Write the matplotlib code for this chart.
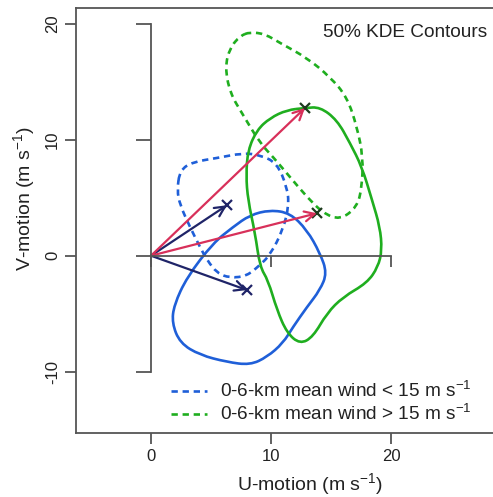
import matplotlib
matplotlib.use("Agg")
import matplotlib.pyplot as plt
from matplotlib.path import Path
from matplotlib.patches import PathPatch
from matplotlib.lines import Line2D

plt.rcParams['font.family'] = ['Liberation Sans', 'DejaVu Sans']
plt.rcParams['mathtext.fontset'] = 'custom'
plt.rcParams['mathtext.rm'] = 'Liberation Sans'
plt.rcParams['mathtext.it'] = 'Liberation Sans:italic'
plt.rcParams['axes.unicode_minus'] = False

# 50% KDE contours (u, v in m/s)
slow_dash_u = [2.42, 3.5, 5.5, 7.67, 9.08, 10.5, 11.33, 11.5, 11.0, 9.92, 9.08, 8.0,
               6.58, 5.5, 4.67, 4.08, 3.25, 2.42, 2.17]
slow_dash_v = [7.39, 8.08, 8.42, 8.85, 8.68, 7.99, 5.92, 4.37, 2.22, 0.06, -0.8, -1.75,
               -1.92, -1.49, -0.37, 0.75, 2.47, 4.37, 5.66]
slow_solid_u = [6.83, 8.25, 9.92, 11.58, 13.0, 14.08, 14.67, 14.08, 13.0, 11.83, 11.0,
                9.67, 8.25, 6.33, 4.08, 2.42, 1.75, 1.92, 3.0, 5.17]
slow_solid_v = [2.47, 3.51, 3.94, 3.68, 2.22, 0.23, -1.49, -2.96, -4.42, -6.15, -7.53,
                -8.73, -9.42, -9.16, -8.56, -7.53, -5.8, -4.25, -1.84, 1.09]
fast_dash_u = [8.25, 9.5, 10.75, 13.0, 14.92, 16.33, 17.17, 17.67, 17.58, 17.17, 15.75,
               14.33, 13.0, 11.58, 10.17, 9.08, 7.67, 6.58, 6.17, 6.58, 7.42]
fast_dash_v = [19.28, 19.11, 18.34, 17.05, 15.41, 13.69, 11.09, 8.51, 5.92, 4.2, 3.08,
               3.68, 5.06, 6.78, 8.51, 9.72, 12.13, 14.03, 16.27, 17.91, 18.94]
fast_solid_u = [12.83, 14.08, 15.5, 16.58, 17.58, 18.42, 19.08, 19.25, 18.92, 18.0, 16.0,
                14.67, 13.5, 12.42, 11.33, 10.5, 9.75, 9.08, 8.67, 8.08, 7.92, 8.08,
                8.83, 9.92, 11.33]
fast_solid_v = [12.73, 12.82, 11.7, 9.72, 7.65, 4.8, 2.47, 0.49, -0.97, -2.35, -3.56,
                -4.94, -7.0, -7.61, -6.66, -4.68, -2.09, -0.97, 1.96, 4.8, 6.96, 9.11,
                10.84, 11.87, 12.56]

# mean motion vectors
slow_vec_u = [6.33, 8.0]
slow_vec_v = [4.35, -2.96]
fast_vec_u = [12.83, 13.83]
fast_vec_v = [12.73, 3.66]

blue = '#1f5fd8'
green = '#1fae1f'
red = '#d8305a'
navy = '#1f2468'
gray = '#555555'
txt = '#222222'

fig = plt.figure(figsize=(4.93, 4.97), dpi=100)
ax = fig.add_axes([76/493, 64/497, 417/493, 425/497])
xlim = (-6.25, 28.5)
ylim = (-15.28, 21.35)
ax.set_xlim(xlim)
ax.set_ylim(ylim)


def smooth_loop(us, vs, **kw):
    # closed curve, the read points used as quadratic control points
    pts = list(zip(us, vs))
    n = len(pts)
    mids = [((pts[i][0] + pts[(i + 1) % n][0]) / 2, (pts[i][1] + pts[(i + 1) % n][1]) / 2)
            for i in range(n)]
    verts = [mids[-1]]
    codes = [Path.MOVETO]
    for i in range(n):
        verts += [pts[i], mids[i]]
        codes += [Path.CURVE3, Path.CURVE3]
    ax.add_patch(PathPatch(Path(verts, codes), fill=False, **kw))


smooth_loop(slow_dash_u, slow_dash_v, edgecolor=blue, lw=1.9, ls=(0, (2.4, 1.8)))
smooth_loop(slow_solid_u, slow_solid_v, edgecolor=blue, lw=1.9)
smooth_loop(fast_dash_u, fast_dash_v, edgecolor=green, lw=1.9, ls=(0, (2.4, 1.8)))
smooth_loop(fast_solid_u, fast_solid_v, edgecolor=green, lw=1.9)

for us, vs, c in [(slow_vec_u, slow_vec_v, navy), (fast_vec_u, fast_vec_v, red)]:
    for u, v in zip(us, vs):
        ax.annotate('', xy=(u, v), xytext=(0, 0),
                    arrowprops=dict(arrowstyle='->,head_length=0.6,head_width=0.3',
                                    color=c, lw=1.6, mutation_scale=12,
                                    shrinkA=0, shrinkB=0))
ax.plot(slow_vec_u, slow_vec_v, ls='none', marker='x', ms=7, mew=1.6, color=navy)
ax.plot(fast_vec_u, fast_vec_v, ls='none', marker='x', ms=7, mew=1.6, color='#1d3a1d')

# outer frame
for s in ['left', 'bottom', 'top']:
    ax.spines[s].set_color(gray)
    ax.spines[s].set_linewidth(1.3)
ax.spines['right'].set_visible(False)
ax.set_xticks([0, 10, 20])
ax.set_yticks([-10, 0, 10, 20])
ax.tick_params(colors=gray, length=8, width=1.3, labelsize=12, labelcolor=txt)
for lab in ax.get_yticklabels():
    lab.set_rotation(90)
    lab.set_va('center')
fig.text(310/493, 1 - 484/497, 'U-motion (m s$^{-1}$)', fontsize=14, color=txt,
         ha='center', va='center')
fig.text(24/493, 1 - 199/497, 'V-motion (m s$^{-1}$)', fontsize=14, color=txt,
         ha='center', va='center', rotation=90)

# inner axes through the origin
ax2 = fig.add_axes(ax.get_position(), frameon=True)
ax2.set_xlim(xlim)
ax2.set_ylim(ylim)
ax2.patch.set_visible(False)
ax2.spines['top'].set_visible(False)
ax2.spines['right'].set_visible(False)
ax2.spines['left'].set_position(('data', 0))
ax2.spines['bottom'].set_position(('data', 0))
ax2.spines['left'].set_bounds(-10, 20)
ax2.spines['bottom'].set_bounds(0, 20)
for s in ['left', 'bottom']:
    ax2.spines[s].set_color(gray)
    ax2.spines[s].set_linewidth(1.3)
ax2.set_xticks([0, 10, 20])
ax2.set_yticks([-10, 0, 10, 20])
ax2.tick_params(axis='y', colors=gray, length=11, width=1.3, labelleft=False)
ax2.tick_params(axis='x', colors=gray, length=8, width=1.3, labelbottom=False)

ax.text(0.986, 0.943, '50% KDE Contours', transform=ax.transAxes, ha='right',
        va='center', fontsize=13.7, color=txt)

handles = [Line2D([], [], color=blue, lw=1.9, dashes=(2.4, 1.8)),
           Line2D([], [], color=green, lw=1.9, dashes=(2.4, 1.8))]
labels = ['0-6-km mean wind < 15 m s$^{-1}$', '0-6-km mean wind > 15 m s$^{-1}$']
ax.legend(handles, labels, loc='upper left', bbox_to_anchor=(0.228, 0.122),
          frameon=False, fontsize=13.7, handlelength=1.9, handletextpad=0.65,
          labelspacing=0.15, borderpad=0, borderaxespad=0, labelcolor=txt)

fig.savefig('out.png', dpi=100)
